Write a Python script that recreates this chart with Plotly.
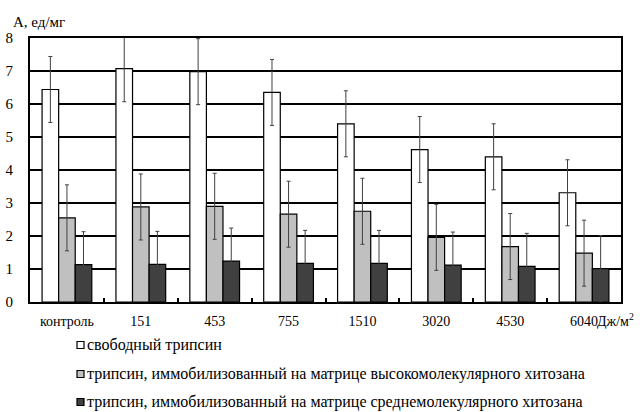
import plotly.graph_objects as go

categories = ["контроль", "151", "453", "755", "1510", "3020", "4530", "6040"]
free = [6.44, 7.07, 6.98, 6.35, 5.40, 4.62, 4.40, 3.31]
high_mw = [2.55, 2.88, 2.90, 2.66, 2.75, 1.96, 1.68, 1.48]
mid_mw = [1.13, 1.14, 1.24, 1.17, 1.17, 1.12, 1.08, 1.01]
free_err = [1.0] * 8
high_err = [1.0] * 8
mid_err = [1.0] * 8
names = ["свободный трипсин",
         "трипсин, иммобилизованный на матрице высокомолекулярного хитозана",
         "трипсин, иммобилизованный на матрице среднемолекулярного хитозана"]
y_title = "А, ед/мг"
x_unit = "Дж/м<sup>2</sup>"
colors = ["#ffffff", "#c0c0c0", "#404040"]

FONT = "Liberation Serif, Times New Roman, serif"
W, H = 642, 412
ML, MR, MT, MB = 30, 21, 38, 110
PW, PH = W - ML - MR, H - MT - MB


def px(x):
    return (x - ML) / PW


def py(y):
    return (H - MB - y) / PH


fig = go.Figure()
for i, (vals, errs) in enumerate([(free, free_err), (high_mw, high_err), (mid_mw, mid_err)]):
    fig.add_trace(go.Bar(
        x=categories, y=vals, name=names[i], showlegend=False,
        marker=dict(color=colors[i], line=dict(color="#000000", width=1.2)),
        error_y=dict(type="data", array=errs, visible=True, color="#404040",
                     thickness=1, width=2),
    ))

# custom legend (square + text) below the plot
shapes = []
annotations = []
leg_y = [345, 374, 402]
for i, name in enumerate(names):
    yc = leg_y[i]
    shapes.append(dict(type="rect", xref="paper", yref="paper",
                       x0=px(77), x1=px(84), y0=py(yc + 3.5), y1=py(yc - 3.5),
                       fillcolor=colors[i], line=dict(color="#000000", width=1.2)))
    annotations.append(dict(text=name, xref="paper", yref="paper", x=px(85), y=py(yc),
                            xanchor="left", yanchor="middle", showarrow=False,
                            font=dict(family=FONT, size=16, color="#000000")))

annotations.append(dict(text=y_title, xref="paper", yref="paper", x=px(11), y=py(22),
                        xanchor="left", yanchor="middle", showarrow=False,
                        font=dict(family=FONT, size=15, color="#000000")))
annotations.append(dict(text=x_unit, xref="paper", yref="paper", x=px(595), y=py(320),
                        xanchor="left", yanchor="middle", showarrow=False,
                        font=dict(family=FONT, size=14, color="#000000")))

fig.update_layout(
    width=W, height=H,
    margin=dict(l=ML, r=MR, t=MT, b=MB, autoexpand=False),
    paper_bgcolor="white", plot_bgcolor="white",
    barmode="group", bargap=0.327, bargroupgap=0,
    font=dict(family=FONT, size=15, color="#000000"),
    showlegend=False,
    xaxis=dict(showline=True, linecolor="#000000", linewidth=1.8, mirror=True,
               ticks="inside", ticklen=4, tickcolor="#000000", tickwidth=2,
               tickson="boundaries", showgrid=False, automargin=False,
               ticklabelstandoff=5,
               tickfont=dict(family=FONT, size=14, color="#000000")),
    yaxis=dict(range=[0, 8], dtick=1, showline=True, linecolor="#000000",
               linewidth=1.8, mirror=True, showgrid=True, gridcolor="#000000",
               gridwidth=1.5, ticks="", zeroline=False, automargin=False,
               ticklabelstandoff=12,
               tickfont=dict(family=FONT, size=15, color="#000000")),
    shapes=shapes,
    annotations=annotations,
)

fig.write_html("out.html", config={"displayModeBar": False},
               post_script="document.body.style.margin='0';document.body.style.padding='0';")
